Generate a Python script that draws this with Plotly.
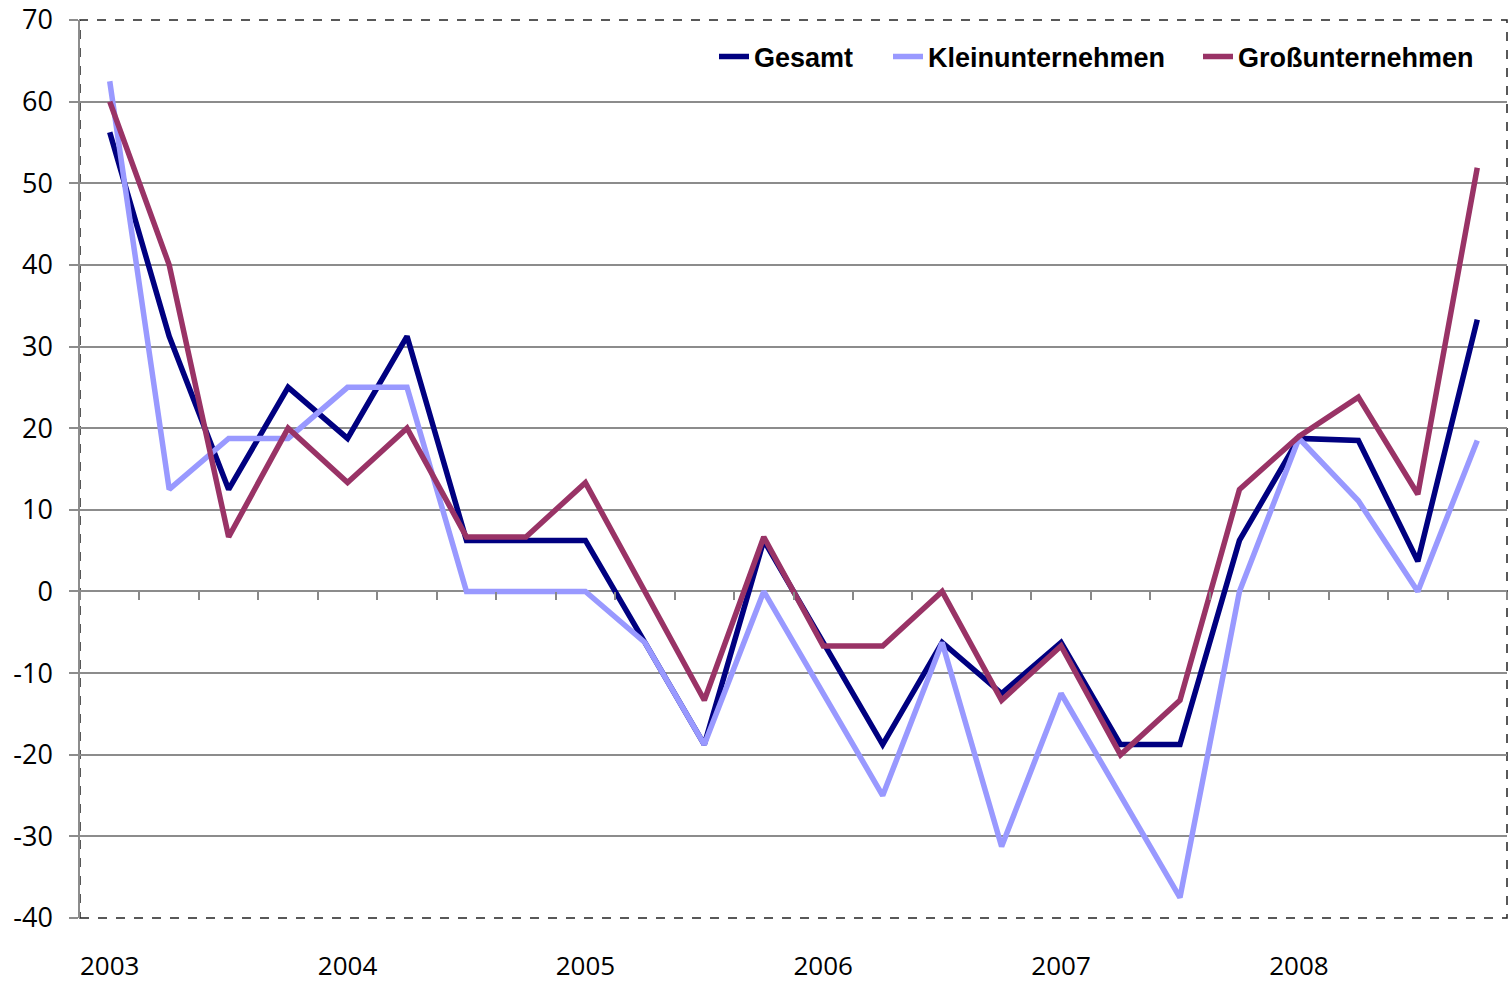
import plotly.graph_objects as go

years = ["2003", "2004", "2005", "2006", "2007", "2008"]
quarters = [f"{y} Q{q}" for y in years for q in range(1, 5)]

gesamt = [56.25, 31.25, 12.5, 25, 18.75, 31.25, 6.25, 6.25, 6.25, -6.25, -18.75, 6.25,
          -6.25, -18.75, -6.25, -12.5, -6.25, -18.75, -18.75, 6.25, 18.75, 18.5, 3.7, 33.3]
klein = [62.5, 12.5, 18.75, 18.75, 25, 25, 0, 0, 0, -6.25, -18.75, 0,
         -12.5, -25, -6.25, -31.25, -12.5, -25, -37.5, 0, 18.75, 11.1, 0, 18.5]
gross = [60, 40, 6.67, 20, 13.33, 20, 6.67, 6.67, 13.33, 0, -13.33, 6.67,
         -6.67, -6.67, 0, -13.33, -6.67, -20, -13.33, 12.5, 19, 23.8, 11.9, 51.9]

series_names = ["Gesamt", "Kleinunternehmen", "Großunternehmen"]
series_values = [gesamt, klein, gross]
series_colors = ["#000080", "#9999FF", "#993366"]

y_tick_vals = [70, 60, 50, 40, 30, 20, 10, 0, -10, -20, -30, -40]
y_tick_text = ["70", "60", "50", "40", "30", "20", "10", "0", "-10", "-20", "-30", "-40"]

year_ticks = [f"{y} Q1" for y in years]

W, H = 1509, 982
ML, MR, MT, MB = 80, 2, 20, 64
PW, PH = W - ML - MR, H - MT - MB

legend_ids = ["legend", "legend2", "legend3"]
legend_item_px = [714, 888, 1198]

fig = go.Figure()
for name, vals, col, lid in zip(series_names, series_values, series_colors, legend_ids):
    fig.add_trace(go.Scatter(x=quarters, y=vals, name=name, mode="lines",
                             line=dict(color=col, width=5.5), xaxis="x", yaxis="y",
                             legend=lid))

# invisible trace carrying the categories for the label axis
fig.add_trace(go.Scatter(x=quarters, y=gesamt, xaxis="x2", yaxis="y", mode="lines",
                         line=dict(width=0), opacity=0, showlegend=False, hoverinfo="skip"))

ymin, ymax = -40, 70
zero_pos = (0 - ymin) / (ymax - ymin)

tick_font = dict(family="Open Sans, sans-serif", size=27, color="#000000")
xlabel_font = dict(family="Open Sans, sans-serif", size=26, color="#000000")
legend_font = dict(family="Liberation Sans Narrow, Arial Narrow, sans-serif",
                   size=27, color="#000000", weight="bold")

legend_cfg = {}
for lid, px in zip(legend_ids, legend_item_px):
    legend_cfg[lid] = dict(orientation="h", x=(px - ML) / PW, xanchor="left",
                           y=(H - MB - 57) / PH, yanchor="middle",
                           bgcolor="rgba(0,0,0,0)", font=legend_font,
                           itemwidth=30)

fig.update_layout(
    width=W, height=H, autosize=False,
    margin=dict(l=ML, r=MR, t=MT, b=MB, autoexpand=False),
    paper_bgcolor="white", plot_bgcolor="white",
    showlegend=True,
    **legend_cfg,
    xaxis=dict(type="category", categoryorder="array", categoryarray=quarters,
               range=[-0.5, 23.5], anchor="free", position=zero_pos,
               showgrid=False, zeroline=False, showline=False, automargin=False,
               tickson="boundaries", ticks="outside", ticklen=8, tickwidth=1.5,
               tickcolor="#888888", showticklabels=False),
    xaxis2=dict(type="category", categoryorder="array", categoryarray=quarters,
                range=[-0.5, 23.5], overlaying="x", anchor="y", side="bottom",
                showgrid=False, zeroline=False, showline=False, ticks="",
                automargin=False,
                tickmode="array", tickvals=year_ticks, ticktext=years,
                tickfont=xlabel_font, ticklabelstandoff=30),
    yaxis=dict(range=[ymin, ymax], tickmode="array", tickvals=y_tick_vals,
               ticktext=y_tick_text, automargin=False,
               showgrid=True, gridcolor="#8c8c8c", gridwidth=1.5,
               zeroline=True, zerolinecolor="#8c8c8c", zerolinewidth=1.5,
               showline=True, linecolor="#8c8c8c", linewidth=1.5,
               ticks="outside", ticklen=9, tickwidth=1.5, tickcolor="#8c8c8c",
               tickfont=tick_font, ticklabelstandoff=11),
    shapes=[dict(type="rect", xref="paper", yref="paper", x0=0, x1=1, y0=0, y1=1,
                 line=dict(color="#222222", width=1.5, dash="dash"), layer="below")],
)

fig.write_html("out.html", config={"displayModeBar": False},
               post_script="document.body.style.margin='0px';")
